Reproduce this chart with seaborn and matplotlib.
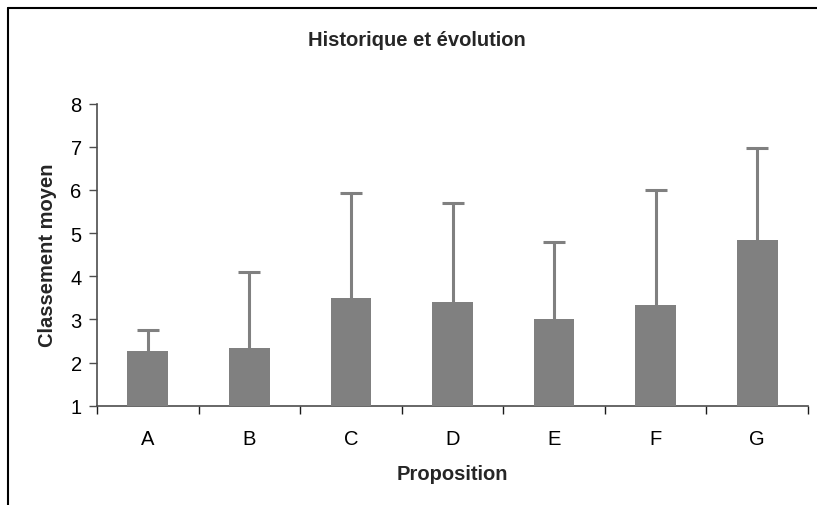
import matplotlib
matplotlib.use("Agg")
import matplotlib.pyplot as plt
from matplotlib.lines import Line2D
import seaborn as sns
import pandas as pd
import numpy as np

categories = ["A", "B", "C", "D", "E", "F", "G"]
means = [2.27, 2.34, 3.50, 3.40, 3.01, 3.33, 4.84]
upper_err = [0.49, 1.75, 2.42, 2.30, 1.78, 2.67, 2.13]
yticks = [1, 2, 3, 4, 5, 6, 7, 8]

sns.set_theme(style="white")
plt.rcParams["font.family"] = ["Liberation Sans", "DejaVu Sans"]

df = pd.DataFrame({"Proposition": categories, "Classement moyen": means})

fig = plt.figure(figsize=(8.17, 5.06), dpi=100)
W, H = 817, 506
ax = fig.add_axes([97 / W, 1 - 406.7 / H, (808 - 97) / W, (406.7 - 104.7) / H])

sns.barplot(data=df, x="Proposition", y="Classement moyen", color="#808080",
            saturation=1, width=0.40, errorbar=None, ax=ax, zorder=3)
for p in ax.patches:
    p.set_edgecolor("none")

xs = np.arange(len(categories))
eb = ax.errorbar(xs, means, yerr=[np.zeros(len(means)), upper_err], fmt="none",
                 ecolor="#808080", elinewidth=2.2, capsize=8, capthick=2.2, zorder=2)
# hide lower caps (only upper error shown)
caplines = eb[1]
if len(caplines) >= 2:
    caplines[0].set_visible(False)

ax.set_ylim(1, 8)
ax.set_xlim(-0.5, len(categories) - 0.5)
ax.set_yticks(yticks)
ax.set_yticklabels([str(t) for t in yticks])

for s in ["top", "right"]:
    ax.spines[s].set_visible(False)
for s in ["left", "bottom"]:
    ax.spines[s].set_color("#4d4d4d")
    ax.spines[s].set_linewidth(1.2)

ax.tick_params(axis="y", which="major", direction="out", length=6, width=1,
               color="#4d4d4d", left=True, labelsize=14.5, pad=5, labelcolor="black")
ax.tick_params(axis="x", which="major", bottom=False, labelsize=14.5, pad=11,
               labelcolor="black")
ax.set_xticks(np.arange(-0.5, len(categories), 1.0), minor=True)
ax.tick_params(axis="x", which="minor", bottom=True, direction="out", length=6,
               width=1, color="#1a1a1a")

ax.set_xlabel("Proposition", fontsize=14.5, fontweight="bold", labelpad=11)
ax.set_ylabel("Classement moyen", fontsize=14.5, fontweight="bold", labelpad=10)
fig.text(417 / W, 1 - 40 / H, "Historique et évolution", ha="center", va="center",
         fontsize=14.5, fontweight="bold")

# Outer chart border (top and left visible)
fig.add_artist(Line2D([8 / W, 8 / W], [0, 1 - 9 / H], transform=fig.transFigure,
                      color="black", linewidth=1.5))
fig.add_artist(Line2D([8 / W, 1], [1 - 9 / H, 1 - 9 / H], transform=fig.transFigure,
                      color="black", linewidth=1.5))

fig.savefig("out.png", dpi=100, facecolor="white")
